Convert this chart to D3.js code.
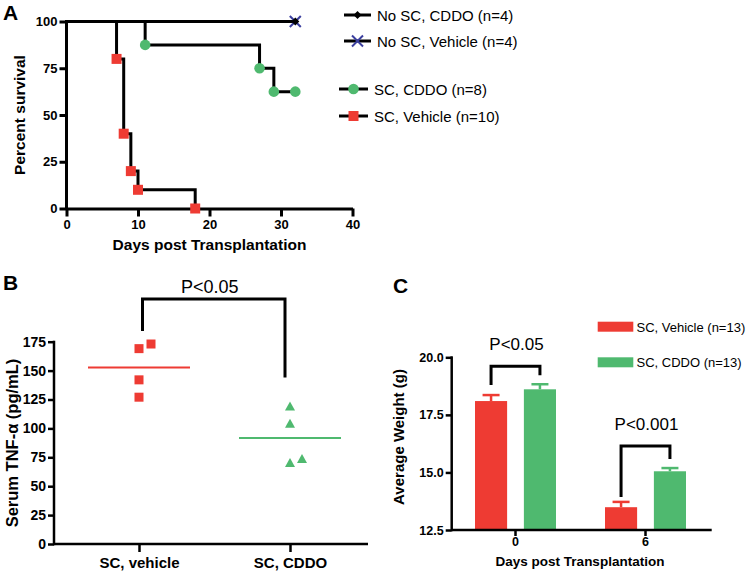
<!DOCTYPE html>
<html><head><meta charset="utf-8">
<script src="https://cdn.jsdelivr.net/npm/d3@7"></script>
<style>body{margin:0;background:#fff}text{font-family:Arial,"Liberation Sans",sans-serif;fill:#000}</style>
</head><body><svg id="c" width="750" height="572"></svg>
<script>
// ---------- Panel A: survival ----------
const kmLabels = ["No SC, CDDO (n=4)", "No SC, Vehicle (n=4)", "SC, CDDO (n=8)", "SC, Vehicle (n=10)"];
const kmNoScCddoDays = [0, 32];
const kmNoScCddoSurv = [100, 100];
const kmNoScVehDays = [0, 32];
const kmNoScVehSurv = [100, 100];
const kmScCddoDays = [0, 11, 27, 29, 32];
const kmScCddoSurv = [100, 87.5, 75, 62.5, 62.5];
const kmScVehDays = [0, 7, 8, 9, 10, 18];
const kmScVehSurv = [100, 80, 40, 20, 10, 0];
const kmXTicks = [0, 10, 20, 30, 40];
const kmYTicks = [0, 25, 50, 75, 100];
// ---------- Panel B: TNF-alpha ----------
const tnfGroups = ["SC, vehicle", "SC, CDDO"];
const tnfVehicle = [173, 169, 142, 127];
const tnfCddo = [119, 104, 73.5, 70];
const tnfYTicks = [0, 25, 50, 75, 100, 125, 150, 175];
const tnfPLabel = "P<0.05";
// ---------- Panel C: weight ----------
const wtDays = ["0", "6"];
const wtSeries = ["SC, Vehicle (n=13)", "SC, CDDO (n=13)"];
const wtVehicleMean = [18.1, 13.49];
const wtVehicleSem = [0.26, 0.23];
const wtCddoMean = [18.61, 15.05];
const wtCddoSem = [0.22, 0.14];
const wtYTicks = [12.5, 15.0, 17.5, 20.0];
const wtPLabels = ["P<0.05", "P<0.001"];

const RED = "#ee3b33", GREEN = "#4fb96f", BLUE = "#3b3f9e";
const svg = d3.select("#c");

function styleAxis(g, sw, fs) {
  g.selectAll(".domain").attr("stroke", "#000").attr("stroke-width", sw);
  g.selectAll(".tick line").attr("stroke", "#000").attr("stroke-width", sw);
  g.selectAll(".tick text").attr("font-size", fs).attr("font-weight", "bold").attr("fill", "#000")
    .style("font-family", "Arial, 'Liberation Sans', sans-serif");
}

// ===== Panel A =====
{
  const x = d3.scaleLinear().domain([0, 40]).range([66.5, 352.5]);
  const y = d3.scaleLinear().domain([0, 100]).range([208.5, 21.5]);
  const g = svg.append("g");
  g.append("text").attr("x", 3).attr("y", 20).attr("font-size", 21).attr("font-weight", "bold").text("A");

  const gx = g.append("g").attr("transform", `translate(0,${y(0)})`)
    .call(d3.axisBottom(x).tickValues(kmXTicks).tickSize(8).tickSizeOuter(0).tickPadding(3));
  styleAxis(gx, 3, 13);
  const gy = g.append("g").attr("transform", `translate(${x(0)},0)`)
    .call(d3.axisLeft(y).tickValues(kmYTicks).tickSize(7).tickSizeOuter(0).tickPadding(2));
  styleAxis(gy, 3, 13);
  gy.select(".domain").attr("d", `M0,${y(100) - 1.5}V${y(0) + 1.5}`);

  g.append("text").attr("x", (x(0) + x(40)) / 2 + 0).attr("y", 250).attr("text-anchor", "middle")
    .attr("font-size", 15.5).attr("font-weight", "bold").text("Days post Transplantation");
  g.append("text").attr("transform", `translate(25,${(y(0) + y(100)) / 2}) rotate(-90)`).attr("text-anchor", "middle")
    .attr("font-size", 15.5).attr("font-weight", "bold").text("Percent survival");

  const series = [
    { days: kmNoScCddoDays, surv: kmNoScCddoSurv, m: "diamond" },
    { days: kmNoScVehDays, surv: kmNoScVehSurv, m: "x" },
    { days: kmScCddoDays, surv: kmScCddoSurv, m: "circle" },
    { days: kmScVehDays, surv: kmScVehSurv, m: "square" }
  ];
  const line = d3.line().x(d => x(d[0])).y(d => y(d[1])).curve(d3.curveStepAfter);
  series.forEach(s => {
    const pts = s.days.map((d, i) => [d, s.surv[i]]);
    g.append("path").attr("d", line(pts)).attr("fill", "none").attr("stroke", "#000").attr("stroke-width", 3)
      .attr("stroke-linecap", "square");
  });
  function marker(sel, type, cx, cy) {
    if (type === "square") sel.append("rect").attr("x", cx - 5).attr("y", cy - 5).attr("width", 10).attr("height", 10).attr("fill", RED);
    else if (type === "circle") sel.append("circle").attr("cx", cx).attr("cy", cy).attr("r", 5.3).attr("fill", GREEN);
    else if (type === "diamond") sel.append("path").attr("d", `M${cx},${cy - 4}L${cx + 4},${cy}L${cx},${cy + 4}L${cx - 4},${cy}Z`).attr("fill", "#000");
    else if (type === "x") sel.append("path").attr("d", `M${cx - 5.5},${cy - 5.5}L${cx + 5.5},${cy + 5.5}M${cx - 5.5},${cy + 5.5}L${cx + 5.5},${cy - 5.5}`)
      .attr("stroke", BLUE).attr("stroke-width", 2);
  }
  [series[1], series[0], series[2], series[3]].forEach(s => {
    s.days.forEach((d, i) => { if (i > 0) marker(g, s.m, x(d), y(s.surv[i])); });
  });

  // legend
  const legY = [15, 41, 89, 116];
  const legX0 = [344, 344, 339, 339], legX1 = [371, 371, 368, 368];
  series.forEach((s, i) => {
    g.append("line").attr("x1", legX0[i]).attr("x2", legX1[i]).attr("y1", legY[i]).attr("y2", legY[i])
      .attr("stroke", "#000").attr("stroke-width", 3);
    marker(g, s.m, (legX0[i] + legX1[i]) / 2, legY[i]);
    g.append("text").attr("x", legX1[i] + 6).attr("y", legY[i] + 5.5).attr("font-size", 15).text(kmLabels[i]);
  });
}

// ===== Panel B =====
{
  const x = d3.scalePoint().domain(tnfGroups).range([139, 290]);
  const y = d3.scaleLinear().domain([0, 175]).range([544, 341.7]);
  const g = svg.append("g");
  g.append("text").attr("x", 3).attr("y", 290).attr("font-size", 21).attr("font-weight", "bold").text("B");

  const gy = g.append("g").attr("transform", `translate(54,0)`)
    .call(d3.axisLeft(y).tickValues(tnfYTicks).tickSize(6).tickSizeOuter(0).tickPadding(2));
  styleAxis(gy, 2.5, 14);
  gy.select(".domain").attr("d", `M0,${y(175) - 1}V${y(0) + 1.2}`);
  const gx = g.append("g").attr("transform", `translate(0,${y(0)})`)
    .call(d3.axisBottom(x).tickSize(8).tickSizeOuter(0).tickPadding(5));
  styleAxis(gx, 2.5, 15);
  gx.select(".domain").attr("d", "M54,0H368");

  g.append("text").attr("transform", `translate(18,${443}) rotate(-90)`).attr("text-anchor", "middle")
    .attr("font-size", 16.5).attr("font-weight", "bold").text("Serum TNF-\u03b1 (pg/mL)");

  const groups = [{ v: tnfVehicle, c: RED, m: "square" }, { v: tnfCddo, c: GREEN, m: "tri" }];
  groups.forEach((gr, gi) => {
    const cx = x(tnfGroups[gi]);
    const sorted = gr.v.slice().sort((a, b) => a - b);
    let prev = null, prevShift = false;
    sorted.forEach(v => {
      let shift = 0;
      if (prev !== null && Math.abs(v - prev) < 6 && !prevShift) shift = 12;
      prevShift = shift > 0; prev = v;
      const px = cx + shift, py = y(v);
      if (gr.m === "square") g.append("rect").attr("x", px - 4.5).attr("y", py - 4.5).attr("width", 9).attr("height", 9).attr("fill", gr.c);
      else g.append("path").attr("d", `M${px},${py - 5}L${px + 5},${py + 4}L${px - 5},${py + 4}Z`).attr("fill", gr.c);
    });
    const m = d3.mean(gr.v);
    g.append("line").attr("x1", cx - 51).attr("x2", cx + 51).attr("y1", y(m)).attr("y2", y(m))
      .attr("stroke", gr.c).attr("stroke-width", 2);
  });
  // significance bracket
  const bl = x(tnfGroups[0]) + 3.5, br = x(tnfGroups[1]) - 5;
  const yl = y(d3.max(tnfVehicle)) - 13, yr = y(d3.max(tnfCddo)) - 29, yt = 299;
  g.append("path").attr("d", `M${bl},${yl}V${yt}H${br}V${yr}`).attr("fill", "none").attr("stroke", "#000").attr("stroke-width", 3);
  g.append("text").attr("x", (bl + br) / 2 - 4).attr("y", 293).attr("text-anchor", "middle").attr("font-size", 18).text(tnfPLabel);
}

// ===== Panel C =====
{
  const x0 = d3.scaleBand().domain(wtDays).range([450.5, 710.5]).paddingInner(0.377).paddingOuter(0.1885);
  const x1 = d3.scaleBand().domain(wtSeries).range([0, x0.bandwidth()]).paddingInner(0.343);
  const y = d3.scaleLinear().domain([12.5, 20]).range([530, 357.3]);
  const g = svg.append("g");
  g.append("text").attr("x", 393).attr("y", 293).attr("font-size", 21).attr("font-weight", "bold").text("C");

  const means = [wtVehicleMean, wtCddoMean], sems = [wtVehicleSem, wtCddoSem], cols = [RED, GREEN];
  wtDays.forEach((d, di) => {
    wtSeries.forEach((s, si) => {
      const bx = x0(d) + x1(s), bw = x1.bandwidth(), cx = bx + bw / 2;
      const top = y(means[si][di] + sems[si][di]);
      g.append("line").attr("x1", cx).attr("x2", cx).attr("y1", y(means[si][di])).attr("y2", top).attr("stroke", cols[si]).attr("stroke-width", 2.5);
      g.append("line").attr("x1", cx - 8.5).attr("x2", cx + 8.5).attr("y1", top).attr("y2", top).attr("stroke", cols[si]).attr("stroke-width", 2.5);
      g.append("rect").attr("x", bx).attr("y", y(means[si][di])).attr("width", bw).attr("height", y(12.5) - y(means[si][di])).attr("fill", cols[si]);
    });
    // bracket
    const lx = x0(d) + x1(wtSeries[0]) + x1.bandwidth() / 2, rx = x0(d) + x1(wtSeries[1]) + x1.bandwidth() / 2;
    const lb = y(wtVehicleMean[di] + wtVehicleSem[di]) - (di === 0 ? 10 : 5);
    const rb = y(wtCddoMean[di] + wtCddoSem[di]) - 9;
    const tp = Math.min(lb, rb) - (di === 0 ? 9 : 13);
    g.append("path").attr("d", `M${lx},${lb}V${tp}H${rx}V${rb}`).attr("fill", "none").attr("stroke", "#000").attr("stroke-width", 3);
    g.append("text").attr("x", (lx + rx) / 2 + 1).attr("y", tp - 16).attr("text-anchor", "middle").attr("font-size", 17).text(wtPLabels[di]);
  });

  const gy = g.append("g").attr("transform", `translate(451.7,0)`)
    .call(d3.axisLeft(y).tickValues(wtYTicks).tickFormat(d3.format(".1f")).tickSize(6).tickSizeOuter(0).tickPadding(2));
  styleAxis(gy, 2.5, 12.5);
  gy.select(".domain").attr("d", `M0,${y(20) - 1}V${y(12.5) + 1.2}`);
  const gx = g.append("g").attr("transform", `translate(0,${y(12.5)})`)
    .call(d3.axisBottom(x0).tickSize(6).tickSizeOuter(0).tickPadding(1));
  styleAxis(gx, 2.5, 12.5);
  gx.select(".domain").attr("d", "M451.7,0H711.7");

  g.append("text").attr("x", 580).attr("y", 565.5).attr("text-anchor", "middle")
    .attr("font-size", 13.5).attr("font-weight", "bold").text("Days post Transplantation");
  g.append("text").attr("transform", `translate(404,437) rotate(-90)`).attr("text-anchor", "middle")
    .attr("font-size", 15).attr("font-weight", "bold").text("Average Weight (g)");

  // legend
  const ly = [321.7, 357.3];
  wtSeries.forEach((s, i) => {
    g.append("rect").attr("x", 597.7).attr("y", ly[i]).attr("width", 35.6).attr("height", 10).attr("fill", cols[i]);
    g.append("text").attr("x", 636.5).attr("y", ly[i] + 10).attr("font-size", 13).text(s);
  });
}
</script></body></html>
